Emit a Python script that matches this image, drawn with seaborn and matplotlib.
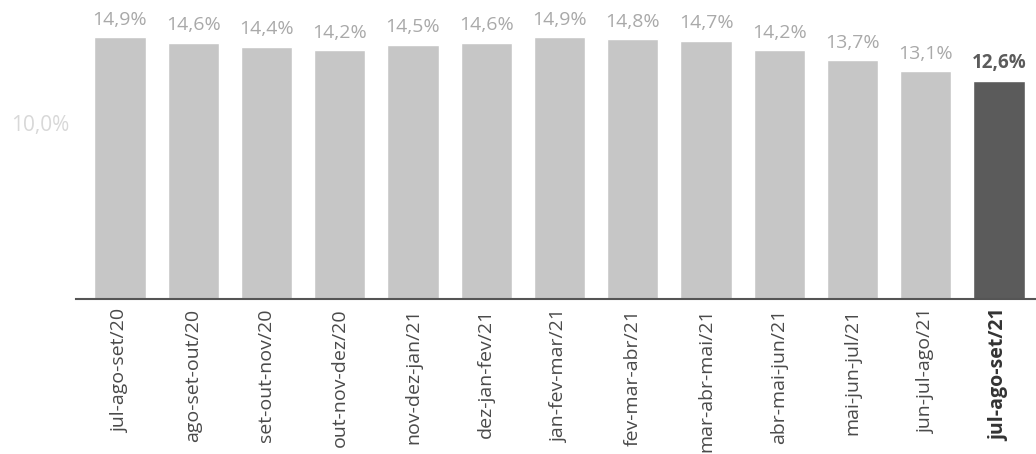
import matplotlib
matplotlib.use("Agg")
import matplotlib.pyplot as plt
import matplotlib.transforms as mtransforms
import seaborn as sns
import pandas as pd

# Dados (taxa trimestral móvel)
periodos = ["jul-ago-set/20", "ago-set-out/20", "set-out-nov/20", "out-nov-dez/20",
            "nov-dez-jan/21", "dez-jan-fev/21", "jan-fev-mar/21", "fev-mar-abr/21",
            "mar-abr-mai/21", "abr-mai-jun/21", "mai-jun-jul/21", "jun-jul-ago/21",
            "jul-ago-set/21"]
taxas = [14.9, 14.6, 14.4, 14.2, 14.5, 14.6, 14.9, 14.8, 14.7, 14.2, 13.7, 13.1, 12.6]
destaque = "jul-ago-set/21"

sns.set_theme(style="white")
plt.rcParams['font.family'] = ['Open Sans', 'DejaVu Sans']

df = pd.DataFrame({"periodo": periodos, "taxa": taxas})
cores = ["#5b5b5b" if p == destaque else "#c6c6c6" for p in periodos]

fig = plt.figure(figsize=(10.36, 4.54), dpi=100, facecolor="white")
ax = fig.add_axes([0.0734, 0.3414, 0.9266, 0.6454])

sns.barplot(data=df, x="periodo", y="taxa", hue="periodo", palette=cores,
            legend=False, width=0.7, saturation=1, ax=ax)

ax.set_xlim(-0.6, 12.505)
ax.set_ylim(1.2, 16.52)

# rótulos de valor
for i, (p, v) in enumerate(zip(periodos, taxas)):
    txt = f"{v:.1f}".replace(".", ",") + "%"
    bold = p == destaque
    ax.annotate(txt, (i, v), xytext=(0, 6), textcoords="offset points",
                ha="center", va="bottom", fontsize=13.5 if bold else 14,
                color="#5b5b5b" if bold else "#a9a9a9",
                fontweight="bold" if bold else "normal")

ax.set_yticks([10.0])
ax.set_yticklabels(["10,0%"], fontsize=15, color="#d8d8d8")
ax.tick_params(axis="y", length=0, pad=5)
desloc = mtransforms.ScaledTranslation(0, 8 / 100, fig.dpi_scale_trans)
for lbl in ax.get_yticklabels():
    lbl.set_transform(lbl.get_transform() + desloc)

ax.tick_params(axis="x", length=0, pad=7)
ax.set_xticks(range(len(periodos)))
ax.set_xticklabels(periodos, rotation=90, fontsize=14, color="#4a4a4a")
for lbl in ax.get_xticklabels():
    if lbl.get_text() == destaque:
        lbl.set_fontweight("bold")
        lbl.set_color("#333333")

ax.set_xlabel("")
ax.set_ylabel("")
for s in ["top", "right", "left"]:
    ax.spines[s].set_visible(False)
ax.spines["bottom"].set_color("#555555")
ax.spines["bottom"].set_linewidth(1.5)

fig.savefig("out.png", dpi=100, facecolor="white")
